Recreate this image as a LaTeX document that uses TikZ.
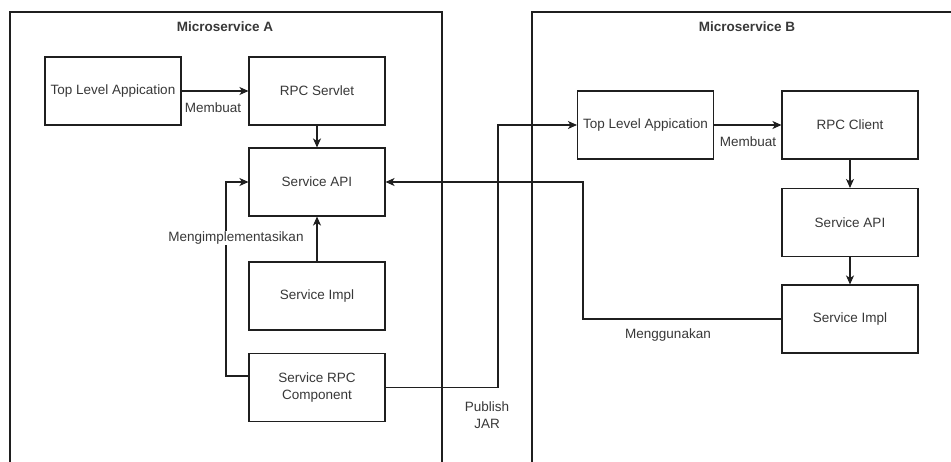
\documentclass[tikz,border=0pt]{standalone}
\usepackage{fontspec}
\setmainfont{Liberation Sans}
\usetikzlibrary{arrows.meta}
\definecolor{ink}{gray}{0.12}
\definecolor{txt}{gray}{0.22}
\tikzset{
  boxnode/.style={draw=ink, line width=1.1pt, minimum width=136pt, minimum height=68pt,
    inner sep=0pt, align=center, text=txt, font=\fontsize{13.5}{16.7}\selectfont},
  lbl/.style={text=txt, inner sep=1pt, align=center, font=\fontsize{13.5}{16.7}\selectfont},
  ttl/.style={text=txt, inner sep=0pt, font=\fontsize{13.5}{16.7}\selectfont\bfseries},
  frame/.style={draw=ink, line width=1.1pt},
  conn/.style={draw=ink, line width=1.1pt},
  arr/.style={conn, -{Stealth[length=9pt,width=8pt,inset=2.5pt]}}
}
\begin{document}
\begin{tikzpicture}[x=1pt,y=-1pt]
\useasboundingbox (0,0) rectangle (951,461);
\clip (0,0) rectangle (951,461);
\fill[white] (0,0) rectangle (951,461);

% service containers (run past the lower/right edge)
\draw[frame] (10,12) rectangle (442,480);
\draw[frame] (532,12) rectangle (980,480);
\node[ttl] (titleA) at (225,27) {Microservice A};
\node[ttl] (titleB) at (747,27) {Microservice B};

% Microservice A
\node[boxnode] (tlA)     at (113,91)    {Top Level Appication};
\node[boxnode] (servlet) at (317,91)    {RPC Servlet};
\node[boxnode] (apiA)    at (317,182)   {Service API};
\node[boxnode] (implA)   at (317,296)   {Service Impl};
\node[boxnode] (rpcComp) at (317,387.5) {Service RPC\\Component};

% Microservice B
\node[boxnode] (tlB)     at (645.5,125) {Top Level Appication};
\node[boxnode] (client)  at (850,125)   {RPC Client};
\node[boxnode] (apiB)    at (850,222.5) {Service API};
\node[boxnode] (implB)   at (850,319)   {Service Impl};

% bend points
\coordinate (implBend) at (226,0);
\coordinate (jarBend)  at (498,0);
\coordinate (useBend)  at (583,0);

% connectors inside A
\draw[arr] (tlA.east) -- (servlet.west);
\node[lbl] (membuatA) at (213,108) {Membuat};
\draw[arr] (servlet.south) -- (apiA.north);
\draw[arr] (implA.north) -- (apiA.south);
\draw[arr] ([yshift=11.5pt]rpcComp.west) -| (implBend |- apiA.west) -- (apiA.west);
\node[lbl, fill=white] (implLbl) at (236,238) {Mengimplementasikan};

% publish the jar to B
\draw[arr] (rpcComp.east) -| (jarBend |- tlB.west) -- (tlB.west);
\node[lbl] (jarLbl) at (487,415.5) {Publish\\JAR};

% connectors inside B
\draw[arr] (tlB.east) -- (client.west);
\node[lbl] (membuatB) at (748,142) {Membuat};
\draw[arr] (client.south) -- (apiB.north);
\draw[arr] (apiB.south) -- (implB.north);

% B uses the API of A
\draw[arr] (implB.west) -| (useBend |- apiA.east) -- (apiA.east);
\node[lbl] (useLbl) at (668,335) {Menggunakan};
\end{tikzpicture}
\end{document}
